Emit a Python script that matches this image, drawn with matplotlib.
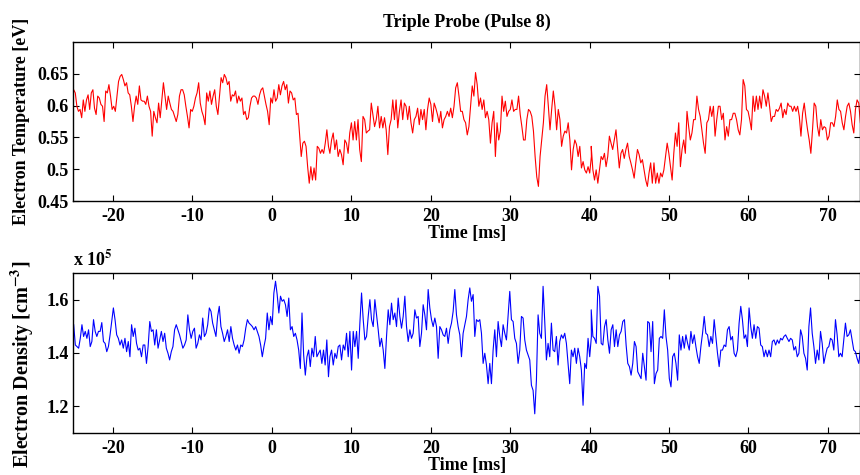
import numpy as np
import matplotlib
matplotlib.use("Agg")
import matplotlib.pyplot as plt

plt.rcParams['font.family'] = ['Liberation Serif', 'DejaVu Serif']
plt.rcParams['font.weight'] = 'bold'
plt.rcParams['mathtext.fontset'] = 'stix'
plt.rcParams['mathtext.default'] = 'bf'
plt.rcParams['axes.unicode_minus'] = False

# time spans of the three read-off pieces [ms]
span_a = (-24.95, 7.13)
span_b = (7.31, 40.23)
span_c = (40.21, 74.1)

# electron temperature [eV]
te_a = [0.625, 0.620, 0.599, 0.591, 0.594, 0.581, 0.609, 0.591, 0.609, 0.617, 0.594, 0.620, 0.625, 0.596, 0.586,
        0.615, 0.612, 0.602, 0.599, 0.575, 0.623, 0.620, 0.633, 0.615, 0.594, 0.599, 0.591, 0.615, 0.638, 0.646,
        0.649, 0.641, 0.631, 0.636, 0.620, 0.617, 0.599, 0.575, 0.599, 0.615, 0.602, 0.631, 0.609, 0.607, 0.607,
        0.602, 0.615, 0.599, 0.591, 0.552, 0.591, 0.581, 0.573, 0.604, 0.581, 0.609, 0.636, 0.615, 0.594, 0.615,
        0.604, 0.594, 0.591, 0.583, 0.575, 0.586, 0.615, 0.625, 0.625, 0.617, 0.599, 0.583, 0.565, 0.594, 0.591,
        0.599, 0.612, 0.620, 0.636, 0.604, 0.591, 0.583, 0.570, 0.620, 0.607, 0.623, 0.602, 0.615, 0.625, 0.599,
        0.586, 0.615, 0.644, 0.636, 0.649, 0.644, 0.633, 0.638, 0.607, 0.617, 0.615, 0.623, 0.604, 0.615, 0.607,
        0.612, 0.586, 0.591, 0.578, 0.581, 0.599, 0.612, 0.615, 0.615, 0.612, 0.602, 0.617, 0.625, 0.628, 0.615,
        0.602, 0.591, 0.570, 0.612, 0.604, 0.625, 0.607, 0.612, 0.633, 0.617, 0.631, 0.638, 0.625, 0.633, 0.604,
        0.623, 0.620, 0.609, 0.612, 0.586, 0.588, 0.554, 0.520, 0.541, 0.544, 0.536, 0.504, 0.478, 0.504, 0.483,
        0.502, 0.483, 0.536, 0.533, 0.525, 0.531, 0.525, 0.541, 0.562, 0.536]
te_b = [0.525, 0.546, 0.557, 0.531, 0.546, 0.520, 0.531, 0.523, 0.507, 0.546, 0.541, 0.525, 0.557, 0.573, 0.546,
        0.575, 0.546, 0.578, 0.531, 0.512, 0.583, 0.578, 0.557, 0.560, 0.562, 0.604, 0.586, 0.567, 0.578, 0.599,
        0.565, 0.583, 0.565, 0.581, 0.562, 0.523, 0.567, 0.578, 0.609, 0.578, 0.609, 0.565, 0.591, 0.609, 0.578,
        0.604, 0.599, 0.578, 0.599, 0.573, 0.557, 0.578, 0.583, 0.596, 0.570, 0.594, 0.578, 0.594, 0.562, 0.594,
        0.612, 0.602, 0.575, 0.604, 0.596, 0.586, 0.573, 0.591, 0.565, 0.578, 0.583, 0.591, 0.583, 0.596, 0.581,
        0.599, 0.628, 0.636, 0.615, 0.591, 0.591, 0.578, 0.573, 0.554, 0.567, 0.599, 0.631, 0.615, 0.652, 0.633,
        0.599, 0.612, 0.594, 0.609, 0.581, 0.591, 0.578, 0.541, 0.573, 0.591, 0.520, 0.573, 0.546, 0.560, 0.615,
        0.591, 0.607, 0.583, 0.591, 0.594, 0.609, 0.591, 0.594, 0.594, 0.615, 0.586, 0.567, 0.546, 0.546, 0.578,
        0.594, 0.591, 0.583, 0.560, 0.520, 0.488, 0.473, 0.520, 0.546, 0.573, 0.615, 0.633, 0.599, 0.562, 0.594,
        0.623, 0.599, 0.562, 0.594, 0.578, 0.536, 0.552, 0.560, 0.557, 0.573, 0.546, 0.499, 0.531, 0.546, 0.539,
        0.520, 0.536, 0.502, 0.512, 0.499, 0.494, 0.504, 0.494, 0.520]
te_c = [0.536, 0.499, 0.483, 0.499, 0.478, 0.499, 0.520, 0.515, 0.525, 0.504, 0.520, 0.552, 0.541, 0.531, 0.546,
        0.562, 0.531, 0.502, 0.525, 0.531, 0.517, 0.531, 0.541, 0.520, 0.510, 0.499, 0.486, 0.510, 0.531, 0.523,
        0.510, 0.515, 0.499, 0.483, 0.473, 0.494, 0.510, 0.478, 0.510, 0.478, 0.494, 0.478, 0.494, 0.488, 0.499,
        0.520, 0.541, 0.525, 0.504, 0.483, 0.525, 0.557, 0.536, 0.573, 0.504, 0.531, 0.546, 0.525, 0.591, 0.567,
        0.546, 0.557, 0.578, 0.578, 0.615, 0.594, 0.583, 0.562, 0.541, 0.525, 0.573, 0.578, 0.599, 0.583, 0.599,
        0.552, 0.578, 0.599, 0.599, 0.578, 0.588, 0.546, 0.567, 0.552, 0.578, 0.578, 0.588, 0.588, 0.578, 0.562,
        0.554, 0.578, 0.641, 0.631, 0.594, 0.591, 0.578, 0.562, 0.615, 0.591, 0.615, 0.594, 0.615, 0.596, 0.625,
        0.615, 0.599, 0.620, 0.599, 0.575, 0.583, 0.583, 0.594, 0.591, 0.596, 0.604, 0.581, 0.594, 0.586, 0.604,
        0.599, 0.599, 0.591, 0.599, 0.591, 0.599, 0.583, 0.552, 0.588, 0.604, 0.581, 0.562, 0.546, 0.525, 0.562,
        0.604, 0.599, 0.567, 0.552, 0.578, 0.562, 0.567, 0.565, 0.546, 0.552, 0.573, 0.573, 0.567, 0.583, 0.609,
        0.594, 0.591, 0.573, 0.562, 0.583, 0.599, 0.604, 0.591, 0.570, 0.557, 0.594, 0.609, 0.604, 0.573]

# electron density [1e5 cm^-3]
ne_a = [1.506, 1.430, 1.424, 1.418, 1.455, 1.506, 1.462, 1.481, 1.455, 1.487, 1.424, 1.443, 1.525, 1.481, 1.462,
        1.481, 1.481, 1.514, 1.443, 1.436, 1.405, 1.424, 1.468, 1.518, 1.569, 1.525, 1.468, 1.455, 1.430, 1.449,
        1.418, 1.455, 1.405, 1.443, 1.386, 1.506, 1.462, 1.493, 1.436, 1.411, 1.418, 1.386, 1.430, 1.430, 1.361,
        1.424, 1.518, 1.481, 1.487, 1.430, 1.487, 1.418, 1.449, 1.481, 1.443, 1.474, 1.418, 1.399, 1.374, 1.405,
        1.424, 1.487, 1.506, 1.487, 1.468, 1.443, 1.418, 1.430, 1.449, 1.543, 1.487, 1.455, 1.481, 1.493, 1.418,
        1.436, 1.468, 1.449, 1.531, 1.462, 1.474, 1.506, 1.569, 1.556, 1.512, 1.487, 1.462, 1.537, 1.575, 1.499,
        1.474, 1.443, 1.462, 1.487, 1.443, 1.499, 1.455, 1.430, 1.411, 1.430, 1.399, 1.430, 1.424, 1.449, 1.493,
        1.525, 1.512, 1.506, 1.499, 1.487, 1.499, 1.481, 1.462, 1.430, 1.386, 1.424, 1.455, 1.550, 1.487, 1.537,
        1.506, 1.625, 1.669, 1.619, 1.550, 1.613, 1.594, 1.600, 1.581, 1.537, 1.606, 1.487, 1.499, 1.462, 1.474,
        1.449, 1.411, 1.342, 1.550, 1.392, 1.317, 1.386, 1.411, 1.349, 1.418, 1.386, 1.462, 1.386, 1.399, 1.411,
        1.361, 1.411, 1.355, 1.449, 1.311]
ne_b = [1.386, 1.411, 1.355, 1.399, 1.380, 1.424, 1.430, 1.374, 1.430, 1.411, 1.474, 1.386, 1.481, 1.336, 1.481,
        1.424, 1.481, 1.380, 1.512, 1.625, 1.525, 1.449, 1.462, 1.537, 1.600, 1.525, 1.499, 1.600, 1.543, 1.487,
        1.424, 1.455, 1.411, 1.342, 1.462, 1.562, 1.506, 1.587, 1.525, 1.550, 1.499, 1.606, 1.537, 1.493, 1.537,
        1.613, 1.499, 1.443, 1.487, 1.455, 1.474, 1.562, 1.531, 1.537, 1.424, 1.474, 1.581, 1.543, 1.487, 1.638,
        1.569, 1.525, 1.499, 1.531, 1.499, 1.380, 1.499, 1.487, 1.468, 1.462, 1.493, 1.436, 1.487, 1.512, 1.556,
        1.638, 1.543, 1.499, 1.468, 1.386, 1.474, 1.506, 1.537, 1.600, 1.644, 1.594, 1.619, 1.462, 1.525, 1.518,
        1.525, 1.474, 1.361, 1.399, 1.355, 1.285, 1.361, 1.285, 1.411, 1.487, 1.386, 1.518, 1.462, 1.424, 1.506,
        1.474, 1.449, 1.543, 1.631, 1.525, 1.518, 1.455, 1.436, 1.361, 1.411, 1.537, 1.531, 1.449, 1.411, 1.392,
        1.374, 1.279, 1.260, 1.172, 1.298, 1.543, 1.474, 1.455, 1.650, 1.518, 1.374, 1.436, 1.386, 1.512, 1.411,
        1.405, 1.462, 1.355, 1.443, 1.468, 1.455, 1.474, 1.436, 1.361, 1.285, 1.411, 1.386, 1.418, 1.361, 1.418,
        1.386, 1.336, 1.204, 1.361, 1.342, 1.455, 1.386, 1.462]
ne_c = [1.562, 1.462, 1.455, 1.436, 1.650, 1.613, 1.436, 1.430, 1.499, 1.525, 1.449, 1.399, 1.487, 1.506, 1.424,
        1.487, 1.424, 1.468, 1.481, 1.518, 1.525, 1.430, 1.361, 1.349, 1.317, 1.361, 1.443, 1.424, 1.330, 1.317,
        1.304, 1.399, 1.349, 1.298, 1.518, 1.512, 1.405, 1.518, 1.285, 1.323, 1.336, 1.455, 1.462, 1.455, 1.562,
        1.462, 1.411, 1.304, 1.273, 1.386, 1.399, 1.361, 1.298, 1.468, 1.411, 1.462, 1.418, 1.468, 1.436, 1.411,
        1.481, 1.436, 1.468, 1.424, 1.386, 1.361, 1.424, 1.474, 1.537, 1.474, 1.468, 1.424, 1.462, 1.436, 1.525,
        1.462, 1.399, 1.349, 1.411, 1.411, 1.430, 1.424, 1.487, 1.499, 1.449, 1.462, 1.399, 1.386, 1.411, 1.512,
        1.575, 1.525, 1.455, 1.468, 1.424, 1.569, 1.499, 1.455, 1.506, 1.455, 1.499, 1.493, 1.430, 1.424, 1.386,
        1.411, 1.386, 1.411, 1.386, 1.443, 1.449, 1.430, 1.449, 1.436, 1.455, 1.449, 1.462, 1.468, 1.455, 1.443,
        1.455, 1.449, 1.411, 1.424, 1.386, 1.399, 1.487, 1.462, 1.399, 1.380, 1.336, 1.499, 1.569, 1.474, 1.424,
        1.361, 1.411, 1.374, 1.481, 1.436, 1.361, 1.392, 1.418, 1.424, 1.455, 1.449, 1.411, 1.525, 1.468, 1.386,
        1.399, 1.386, 1.449, 1.512, 1.462, 1.468, 1.487, 1.449, 1.411, 1.405, 1.380, 1.361, 1.411]


def join(parts, spans):
    t = np.concatenate([np.linspace(s[0], s[1], len(p)) for p, s in zip(parts, spans)])
    return t, np.concatenate(parts)


spans = [span_a, span_b, span_c]
t_te, te = join([te_a, te_b, te_c], spans)
t_ne, ne = join([ne_a, ne_b, ne_c], spans)

fs = 13

fig = plt.figure(figsize=(8.6, 4.75), dpi=100)
ax1 = fig.add_axes([0.0852, 0.5768, 0.9148, 0.3347])
ax2 = fig.add_axes([0.0852, 0.0884, 0.9148, 0.3369])

ax1.plot(t_te, te, color='#ff0000', lw=0.8)
ax2.plot(t_ne, ne, color='#0000ff', lw=0.8)

for ax in (ax1, ax2):
    ax.set_xlim(-25, 74.05)
    ax.set_xticks(np.arange(-20, 71, 10))
    ax.tick_params(direction='in', top=True, right=True, length=4, width=0.8,
                   labelsize=fs)
    ax.tick_params(axis='x', pad=5)
    ax.tick_params(axis='y', pad=3)
    for lab in ax.get_xticklabels() + ax.get_yticklabels():
        lab.set_fontweight('bold')
    for sp in ax.spines.values():
        sp.set_linewidth(1.0)
    ax.set_xlabel('Time [ms]', fontsize=fs, fontweight='bold', labelpad=0)

ax1.set_ylim(0.45, 0.70)
ax1.set_yticks([0.45, 0.5, 0.55, 0.6, 0.65])
ax1.set_yticklabels(['0.45', '0.5', '0.55', '0.6', '0.65'])
ax1.set_ylabel('Electron Temperature [eV]', fontsize=fs, fontweight='bold', labelpad=6)
ax1.set_title('Triple Probe (Pulse 8)', fontsize=fs, fontweight='bold', pad=11)

ax2.set_ylim(1.1, 1.7)
ax2.set_yticks([1.2, 1.4, 1.6])
ax2.set_yticklabels(['1.2', '1.4', '1.6'])
ax2.set_ylabel('Electron Density [cm$^{-3}$]', fontsize=14.5, fontweight='bold')
ax2.yaxis.set_label_coords(-0.047, 0.43)
ax2.text(0.0, 1.02, 'x 10$^{5}$', transform=ax2.transAxes, fontsize=fs,
         fontweight='bold', ha='left', va='bottom')

fig.savefig('out.png', dpi=100)
